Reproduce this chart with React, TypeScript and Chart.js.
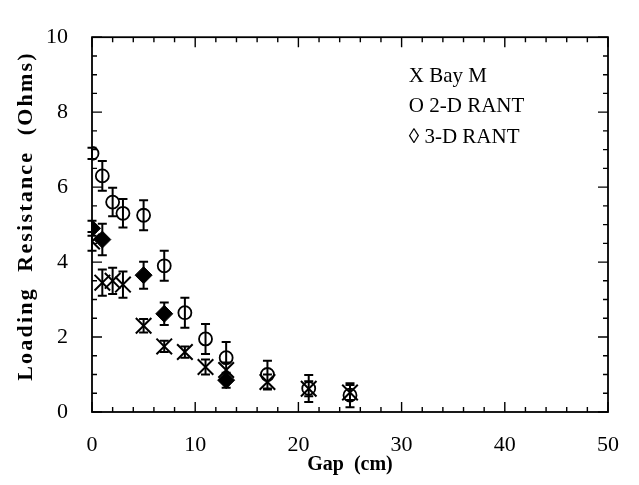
import React, { useEffect, useRef } from "react";
import { Chart, registerables } from "chart.js";

Chart.register(...registerables);

// ---- data ----
const gapBayM = [0, 1, 2, 3, 5, 7, 9, 11, 13, 17, 21, 25];
const resBayM = [4.55, 3.45, 3.5, 3.4, 2.3, 1.75, 1.6, 1.2, 1.12, 0.8, 0.62, 0.52];
const errBayM = [0.25, 0.35, 0.35, 0.35, 0.18, 0.15, 0.15, 0.2, 0.2, 0.2, 0.2, 0.2];

const gap2D = [0, 1, 2, 3, 5, 7, 9, 11, 13, 17, 21, 25];
const res2D = [6.9, 6.3, 5.6, 5.3, 5.25, 3.9, 2.65, 1.95, 1.45, 1.0, 0.63, 0.45];
const err2D = [0.15, 0.4, 0.38, 0.38, 0.4, 0.4, 0.4, 0.4, 0.42, 0.37, 0.36, 0.32];

const gap3D = [0, 1, 5, 7, 13];
const res3D = [4.9, 4.6, 3.65, 2.62, 0.85];
const err3D = [0.2, 0.42, 0.36, 0.3, 0.2];

const xRange = [0, 50];
const yRange = [0, 10];
const xMajorStep = 10;
const xMinorStep = 2;
const yMajorStep = 2;
const yMinorStep = 0.5;

const xTitle = "Gap  (cm)";
const yTitle = "Loading  Resistance  (Ohms)";
const legendLabels = ["X Bay M", "O 2-D RANT", "\u25CA 3-D RANT"];

const errorSets = [errBayM, err2D, err3D];

const FONT = "'Liberation Serif', 'Times New Roman', serif";

function isMultiple(v: number, step: number) {
  const r = v / step;
  return Math.abs(r - Math.round(r)) < 1e-6;
}

const framePlugin = {
  id: "frameAndErrors",
  beforeDatasetsDraw(chart: any) {
    const { ctx, chartArea: a, scales } = chart;
    const x = scales.x;
    const y = scales.y;
    ctx.save();
    ctx.strokeStyle = "#000";
    ctx.lineWidth = 1.8;
    ctx.strokeRect(a.left, a.top, a.right - a.left, a.bottom - a.top);
    ctx.lineWidth = 1.4;
    ctx.beginPath();
    for (let v = xRange[0]; v <= xRange[1] + 1e-9; v += xMinorStep) {
      const px = x.getPixelForValue(v);
      const len = isMultiple(v, xMajorStep) ? 10 : 5;
      ctx.moveTo(px, a.bottom);
      ctx.lineTo(px, a.bottom - len);
      ctx.moveTo(px, a.top);
      ctx.lineTo(px, a.top + len);
    }
    for (let v = yRange[0]; v <= yRange[1] + 1e-9; v += yMinorStep) {
      const py = y.getPixelForValue(v);
      const len = isMultiple(v, yMajorStep) ? 10 : 5;
      ctx.moveTo(a.left, py);
      ctx.lineTo(a.left + len, py);
      ctx.moveTo(a.right, py);
      ctx.lineTo(a.right - len, py);
    }
    ctx.stroke();

    // error bars
    ctx.lineWidth = 2;
    ctx.beginPath();
    chart.data.datasets.forEach((ds: any, i: number) => {
      const errs = errorSets[i];
      ds.data.forEach((pt: any, j: number) => {
        const e = errs[j];
        const px = x.getPixelForValue(pt.x);
        const pTop = y.getPixelForValue(pt.y + e);
        const pBot = y.getPixelForValue(pt.y - e);
        ctx.moveTo(px, pTop);
        ctx.lineTo(px, pBot);
        ctx.moveTo(px - 4.5, pTop);
        ctx.lineTo(px + 4.5, pTop);
        ctx.moveTo(px - 4.5, pBot);
        ctx.lineTo(px + 4.5, pBot);
      });
    });
    ctx.stroke();
    ctx.restore();
  },
  afterDraw(chart: any) {
    const { ctx, chartArea: a } = chart;
    ctx.save();
    ctx.fillStyle = "#000";
    // y axis title with wide letter spacing
    ctx.translate(26, 216);
    ctx.rotate(-Math.PI / 2);
    ctx.font = `bold 22px ${FONT}`;
    (ctx as any).letterSpacing = "2.2px";
    ctx.textAlign = "center";
    ctx.textBaseline = "middle";
    ctx.fillText(yTitle, 0, 0);
    ctx.restore();

    ctx.save();
    ctx.fillStyle = "#000";
    ctx.font = `21px ${FONT}`;
    ctx.textAlign = "left";
    ctx.textBaseline = "middle";
    const lx = a.left + (a.right - a.left) * 0.614;
    const centers = [76, 106, 137];
    legendLabels.forEach((t, i) => ctx.fillText(t, lx, centers[i]));
    ctx.restore();
  },
};

export default function App() {
  const ref = useRef<HTMLCanvasElement | null>(null);
  useEffect(() => {
    if (!ref.current) return;
    const toPts = (xs: number[], ys: number[]) => xs.map((v, i) => ({ x: v, y: ys[i] }));
    const chart = new Chart(ref.current, {
      type: "scatter",
      data: {
        datasets: [
          {
            label: "Bay M",
            data: toPts(gapBayM, resBayM),
            pointStyle: "crossRot",
            pointRadius: 11,
            borderColor: "#000",
            backgroundColor: "rgba(0,0,0,0)",
            borderWidth: 2,
          },
          {
            label: "2-D RANT",
            data: toPts(gap2D, res2D),
            pointStyle: "circle",
            pointRadius: 6.5,
            borderColor: "#000",
            backgroundColor: "rgba(0,0,0,0)",
            borderWidth: 1.8,
          },
          {
            label: "3-D RANT",
            data: toPts(gap3D, res3D),
            pointStyle: "rectRot",
            pointRadius: 8.5,
            borderColor: "#000",
            backgroundColor: "#000",
            borderWidth: 1,
          },
        ],
      },
      options: {
        animation: false,
        responsive: false,
        layout: { padding: { top: 19, right: 21, left: 0, bottom: 0 } },
        plugins: { legend: { display: false }, tooltip: { enabled: false } },
        scales: {
          x: {
            type: "linear",
            min: xRange[0],
            max: xRange[1],
            afterFit: (s: any) => {
              s.height = 73;
            },
            grid: { display: false, drawTicks: false },
            border: { display: false },
            ticks: {
              stepSize: xMajorStep,
              color: "#000",
              padding: 20,
              maxRotation: 0,
              font: { family: FONT, size: 22 },
            },
            title: {
              display: true,
              text: xTitle,
              color: "#000",
              font: { family: FONT, size: 20, weight: "bold" },
              padding: { top: 8, bottom: 8 },
            },
          },
          y: {
            type: "linear",
            min: yRange[0],
            max: yRange[1],
            afterFit: (s: any) => {
              s.width = 92;
            },
            grid: { display: false, drawTicks: false },
            border: { display: false },
            ticks: {
              stepSize: yMajorStep,
              color: "#000",
              padding: 24,
              font: { family: FONT, size: 22 },
            },
          },
        },
      },
      plugins: [framePlugin],
    } as any);
    return () => chart.destroy();
  }, []);
  return (
    <div style={{ position: "fixed", left: 0, top: 0, width: 639, height: 485, background: "#fff" }}>
      <canvas ref={ref} width={639} height={485} />
    </div>
  );
}
